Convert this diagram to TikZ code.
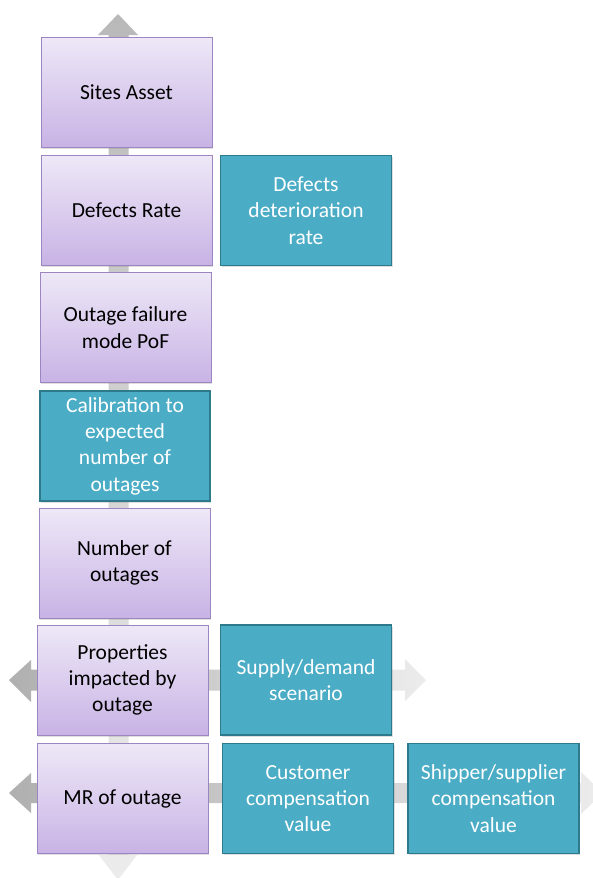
\documentclass[tikz,border=0pt]{standalone}
\usepackage{fontspec}
\setmainfont{Carlito}
\usetikzlibrary{shadows}
\definecolor{purpTop}{HTML}{EEE8F7}
\definecolor{purpBot}{HTML}{C8B3E5}
\definecolor{purpLine}{HTML}{9C86C2}
\definecolor{tealFill}{HTML}{4BACC6}
\definecolor{tealLine}{HTML}{2C7A8C}
\definecolor{arrDark}{HTML}{B9B9B9}
\definecolor{arrLight}{HTML}{ECECEC}
\begin{document}
\begin{tikzpicture}[x=1pt,y=-1pt,
  basebox/.style={rectangle, minimum width=171pt, minimum height=110pt, align=center,
    font=\fontsize{21.5}{26.3}\selectfont, inner sep=2pt,
    drop shadow={opacity=0.25, shadow xshift=1pt, shadow yshift=-1.5pt}},
  purpbox/.style={basebox, draw=purpLine, line width=1pt, top color=purpTop, bottom color=purpBot, text=black},
  tealbox/.style={basebox, draw=tealLine, line width=1.9pt, fill=tealFill, text=white},
  arrowshape/.style={draw=none}
]
\useasboundingbox (0,0) rectangle (593,878);
\fill[white] (0,0) rectangle (593,878);

% vertical arrow
\shade[top color=arrDark, bottom color=arrLight, arrowshape]
  (118,14) -- (138,35) -- (128.5,35) -- (128.5,855) -- (137,855) -- (118,880)
  -- (99,855) -- (108.5,855) -- (108.5,35) -- (98,35) -- cycle;

% horizontal arrow (Properties row)
\shade[left color=arrDark!95!black, right color=arrLight, arrowshape]
  (9,680) -- (31,660) -- (31,669.5) -- (405,669.5) -- (405,659) -- (426,680)
  -- (405,701) -- (405,690.5) -- (31,690.5) -- (31,702) -- cycle;

% horizontal arrow (MR row)
\shade[left color=arrDark!95!black, right color=arrLight, arrowshape]
  (9,793) -- (31,773) -- (31,783) -- (581,783) -- (581,772) -- (603,793)
  -- (581,814) -- (581,803) -- (31,803) -- (31,813) -- cycle;

% main column
\node[purpbox] (sites) at (126.5,92) {Sites Asset};
\node[purpbox] (defects) at (126.5,210) {Defects Rate};
\node[purpbox] (pof) at (125.5,327.5) {Outage failure\\mode PoF};
\node[tealbox, minimum width=170pt] (calib) at (125,446) {Calibration to\\expected\\number of\\outages};
\node[purpbox] (number) at (124.5,563) {Number of\\outages};
\node[purpbox] (props) at (122.5,680) {Properties\\impacted by\\outage};
\node[purpbox] (mr) at (122.5,798.5) {MR of outage};

% side boxes
\node[tealbox] (deter) at (306,210.5) {Defects\\deterioration\\rate};
\node[tealbox] (supply) at (306,680) {Supply/demand\\scenario};
\node[tealbox] (cust) at (308,798.5) {Customer\\compensation\\value};
\node[tealbox] (ship) at (493.5,798.5) {Shipper/supplier\\compensation\\value};
\end{tikzpicture}
\end{document}
